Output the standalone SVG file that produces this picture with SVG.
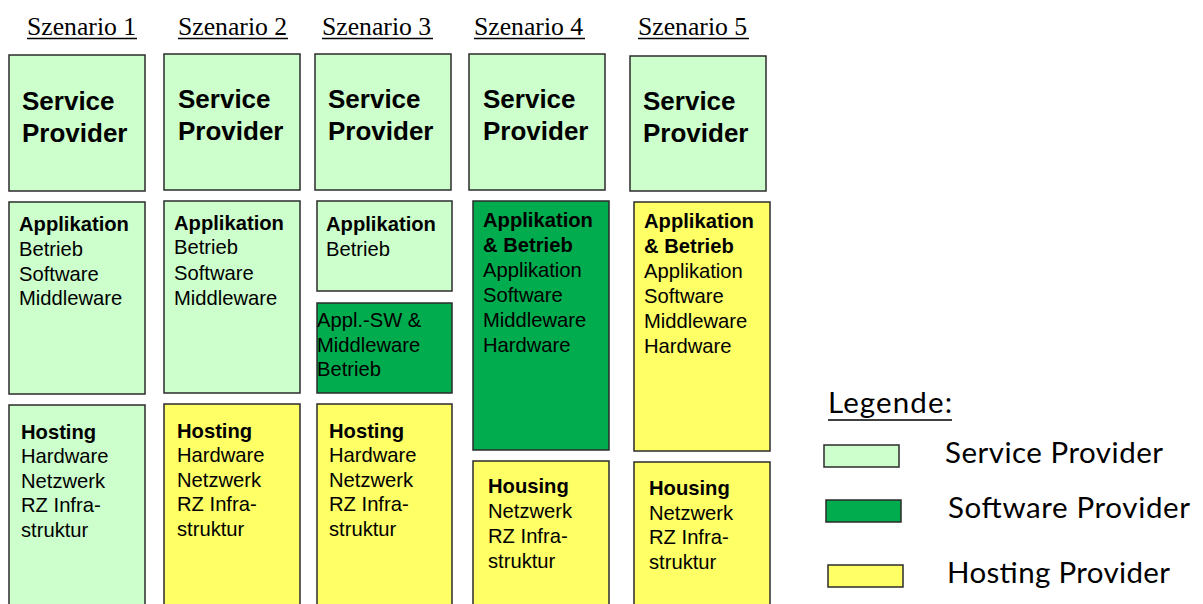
<svg xmlns="http://www.w3.org/2000/svg" width="1203" height="604" viewBox="0 0 1203 604">
  <style>
    .sp { fill: #CCFFCC; }
    .sw { fill: #00AC4E; }
    .hp { fill: #FFFF66; }
    rect.box { stroke: #2b2b2b; stroke-width: 1.5; }
    .head { font-family: "Liberation Serif", "Times New Roman", serif; font-size: 25.7px; fill: #000; }
    .uline { stroke: #000; stroke-width: 1.4; }
    .big { font-family: "Liberation Sans", Arial, sans-serif; font-size: 26px; font-weight: bold; fill: #000; }
    .t { font-family: "Liberation Sans", Arial, sans-serif; font-size: 20.2px; fill: #000; }
    .b { font-weight: bold; }
    .leg { font-family: Lato, "Open Sans", sans-serif; font-size: 29.5px; fill: #000; }
  </style>

  <!-- column headings -->
  <g id="headings">
    <text class="head" x="27" y="35">Szenario 1</text>
    <line class="uline" x1="27" y1="38.5" x2="137" y2="38.5"/>
    <text class="head" x="178" y="35">Szenario 2</text>
    <line class="uline" x1="178" y1="38.5" x2="288" y2="38.5"/>
    <text class="head" x="322" y="35">Szenario 3</text>
    <line class="uline" x1="322" y1="38.5" x2="433" y2="38.5"/>
    <text class="head" x="474" y="35">Szenario 4</text>
    <line class="uline" x1="474" y1="38.5" x2="585" y2="38.5"/>
    <text class="head" x="638" y="35">Szenario 5</text>
    <line class="uline" x1="638" y1="38.5" x2="749" y2="38.5"/>
  </g>

  <!-- Szenario 1 -->
  <g id="s1-service">
    <rect class="box sp" x="9" y="55" width="136" height="136"/>
    <text class="big" x="22" y="110">Service</text>
    <text class="big" x="22" y="142">Provider</text>
  </g>
  <g id="s1-applikation">
    <rect class="box sp" x="9" y="202" width="136" height="192"/>
    <text class="t" x="19"><tspan class="b" x="19" y="231">Applikation</tspan><tspan x="19" y="255.5">Betrieb</tspan><tspan x="19" y="280.5">Software</tspan><tspan x="19" y="305">Middleware</tspan></text>
  </g>
  <g id="s1-hosting">
    <rect class="box sp" x="9" y="405" width="136" height="210"/>
    <text class="t" x="21"><tspan class="b" x="21" y="438.5">Hosting</tspan><tspan x="21" y="462.5">Hardware</tspan><tspan x="21" y="487.5">Netzwerk</tspan><tspan x="21" y="512">RZ Infra-</tspan><tspan x="21" y="537">struktur</tspan></text>
  </g>

  <!-- Szenario 2 -->
  <g id="s2-service">
    <rect class="box sp" x="164" y="54" width="136" height="136"/>
    <text class="big" x="178" y="108">Service</text>
    <text class="big" x="178" y="140">Provider</text>
  </g>
  <g id="s2-applikation">
    <rect class="box sp" x="164" y="201" width="136" height="192"/>
    <text class="t" x="174"><tspan class="b" x="174" y="229.5">Applikation</tspan><tspan x="174" y="254">Betrieb</tspan><tspan x="174" y="279.5">Software</tspan><tspan x="174" y="304.5">Middleware</tspan></text>
  </g>
  <g id="s2-hosting">
    <rect class="box hp" x="164" y="404" width="136" height="210"/>
    <text class="t" x="177"><tspan class="b" x="177" y="437.5">Hosting</tspan><tspan x="177" y="461.5">Hardware</tspan><tspan x="177" y="486.5">Netzwerk</tspan><tspan x="177" y="511">RZ Infra-</tspan><tspan x="177" y="536">struktur</tspan></text>
  </g>

  <!-- Szenario 3 -->
  <g id="s3-service">
    <rect class="box sp" x="315" y="54" width="136" height="136"/>
    <text class="big" x="328" y="108">Service</text>
    <text class="big" x="328" y="140">Provider</text>
  </g>
  <g id="s3-applikation">
    <rect class="box sp" x="317" y="201" width="135" height="90"/>
    <text class="t" x="326"><tspan class="b" x="326" y="231">Applikation</tspan><tspan x="326" y="256">Betrieb</tspan></text>
  </g>
  <g id="s3-software">
    <rect class="box sw" x="317" y="303" width="135" height="90"/>
    <text class="t" x="317"><tspan x="317" y="327">Appl.-SW &amp;</tspan><tspan x="317" y="352">Middleware</tspan><tspan x="317" y="376">Betrieb</tspan></text>
  </g>
  <g id="s3-hosting">
    <rect class="box hp" x="317" y="404" width="135" height="210"/>
    <text class="t" x="329"><tspan class="b" x="329" y="437.5">Hosting</tspan><tspan x="329" y="461.5">Hardware</tspan><tspan x="329" y="486.5">Netzwerk</tspan><tspan x="329" y="511">RZ Infra-</tspan><tspan x="329" y="536">struktur</tspan></text>
  </g>

  <!-- Szenario 4 -->
  <g id="s4-service">
    <rect class="box sp" x="469" y="54" width="136" height="136"/>
    <text class="big" x="483" y="108">Service</text>
    <text class="big" x="483" y="140">Provider</text>
  </g>
  <g id="s4-applikation">
    <rect class="box sw" x="473" y="201" width="136" height="249"/>
    <text class="t" x="483"><tspan class="b" x="483" y="227">Applikation</tspan><tspan class="b" x="483" y="252">&amp; Betrieb</tspan><tspan x="483" y="277">Applikation</tspan><tspan x="483" y="302">Software</tspan><tspan x="483" y="327">Middleware</tspan><tspan x="483" y="352">Hardware</tspan></text>
  </g>
  <g id="s4-housing">
    <rect class="box hp" x="473" y="461" width="136" height="155"/>
    <text class="t" x="488"><tspan class="b" x="488" y="493">Housing</tspan><tspan x="488" y="518">Netzwerk</tspan><tspan x="488" y="543">RZ Infra-</tspan><tspan x="488" y="567.5">struktur</tspan></text>
  </g>

  <!-- Szenario 5 -->
  <g id="s5-service">
    <rect class="box sp" x="630" y="56" width="136" height="135"/>
    <text class="big" x="643" y="110">Service</text>
    <text class="big" x="643" y="142">Provider</text>
  </g>
  <g id="s5-applikation">
    <rect class="box hp" x="634" y="202" width="136" height="249"/>
    <text class="t" x="644"><tspan class="b" x="644" y="228">Applikation</tspan><tspan class="b" x="644" y="253">&amp; Betrieb</tspan><tspan x="644" y="278">Applikation</tspan><tspan x="644" y="303">Software</tspan><tspan x="644" y="328">Middleware</tspan><tspan x="644" y="353">Hardware</tspan></text>
  </g>
  <g id="s5-housing">
    <rect class="box hp" x="634" y="462" width="136" height="155"/>
    <text class="t" x="649"><tspan class="b" x="649" y="495">Housing</tspan><tspan x="649" y="519.5">Netzwerk</tspan><tspan x="649" y="544">RZ Infra-</tspan><tspan x="649" y="569">struktur</tspan></text>
  </g>

  <!-- legend -->
  <g id="legend">
    <text class="leg" x="828" y="413" textLength="124" lengthAdjust="spacing">Legende:</text>
    <line class="uline" x1="828" y1="420" x2="952" y2="420"/>
    <rect class="box sp" x="824" y="445" width="75" height="22" stroke-width="1.2"/>
    <text class="leg" x="945" y="463" textLength="218" lengthAdjust="spacing">Service Provider</text>
    <rect class="box sw" x="826" y="500" width="75" height="22" stroke-width="1.2"/>
    <text class="leg" x="948" y="518" textLength="242" lengthAdjust="spacing">Software Provider</text>
    <rect class="box hp" x="828" y="565" width="75" height="22" stroke-width="1.2"/>
    <text class="leg" x="947" y="583" textLength="223" lengthAdjust="spacing">Hosting Provider</text>
  </g>
</svg>
